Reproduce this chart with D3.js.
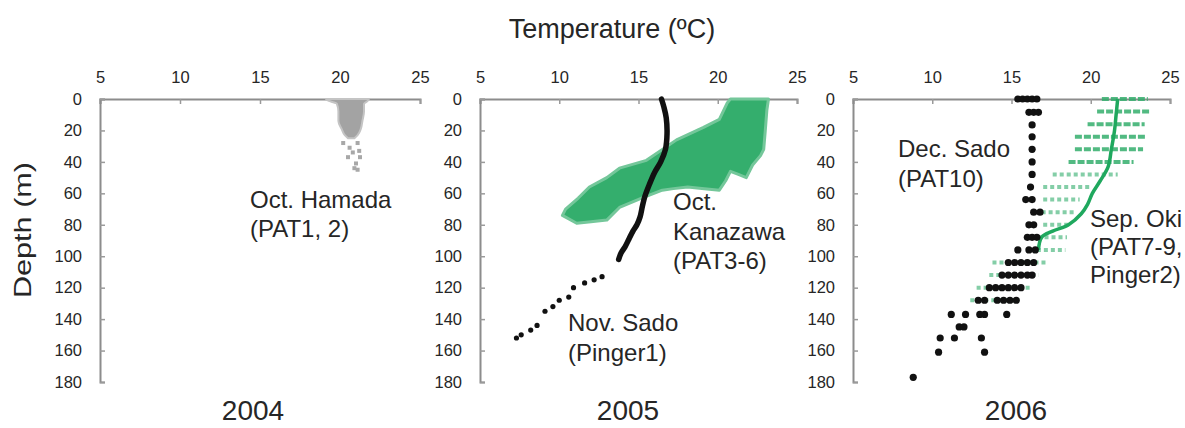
<!DOCTYPE html>
<html><head><meta charset="utf-8">
<script src="https://cdn.jsdelivr.net/npm/d3@7"></script>
<style>
body{margin:0;background:#fff}
svg{display:block}
text{font-family:"Liberation Sans",Arial,Helvetica,sans-serif;fill:#262626}
</style>
</head><body>
<svg id="chart" width="1185" height="428"></svg>
<script>
// ---------- data ----------
const xTicks = [5, 10, 15, 20, 25];
const yTicks = [0, 20, 40, 60, 80, 100, 120, 140, 160, 180];
const years = ["2004", "2005", "2006"];
const xTitle = "Temperature (\u00baC)";
const yTitle = "Depth (m)";

// 2004 Oct. Hamada (PAT1, 2): envelope of the dense grey cloud + sparse points
const hamadaDepth = [0, 1.5, 3, 8, 14, 19, 23, 25];
const hamadaLo    = [19.1, 19.4, 19.8, 19.9, 19.9, 20.1, 20.3, 20.5];
const hamadaHi    = [21.8, 21.7, 21.5, 21.5, 21.4, 21.3, 21.1, 20.9];
const hamadaSparseT = [20.2, 21.1, 20.6, 20.8, 21.2, 20.5, 21.25, 21.0, 21.1, 20.9];
const hamadaSparseD = [28, 28, 31, 34, 33, 37, 37, 41, 45, 44];

// 2005 Oct. Kanazawa (PAT3-6): outline of the dense green cloud
const kanazawaT = [20.8, 23.2, 23.1, 23.0, 22.9, 22.7, 22.2, 21.8, 21.3, 20.8, 20.5, 20.1, 19.0, 18.1, 17.2, 16.5, 15.2, 13.8, 13.0, 12.0, 11.1, 10.2, 10.4, 11.2, 11.9, 13.0, 13.8, 15.5, 17.4, 19.1, 20.1, 20.6];
const kanazawaD = [0, 0, 7, 20, 32, 36, 42, 50, 48, 46, 52, 58, 57, 56, 57, 58, 63, 69, 77, 78, 79, 74, 70, 63, 56, 50, 44, 39, 26, 18, 13, 2.5];

// 2005 Nov. Sado (Pinger1): continuous profile + deeper discrete points
const pinger1T = [16.45, 16.6, 16.75, 16.8, 16.7, 16.4, 16.0, 15.7, 15.4, 15.25, 15.1, 14.9, 14.65, 14.4, 14.15, 13.9, 13.75];
const pinger1D = [0, 5, 12, 22, 32, 40, 47, 54, 62, 68, 75, 80, 84, 89, 94, 98, 102];
const pinger1DotsT = [12.7, 12.2, 11.6, 10.9, 10.6, 10.0, 9.6, 9.1, 8.6, 8.2, 7.6, 7.3];
const pinger1DotsD = [113, 115, 117, 120, 126, 128, 132, 135, 144, 147, 150, 152];

// 2006 Sep. Oki (PAT7-9, Pinger2): rows of points per depth (range) + mean profile
const okiDepth = [0, 8, 16, 24, 32, 40, 48, 56, 64, 72, 80, 88, 96, 104, 112, 120, 128];
const okiLo    = [20.7, 20.4, 19.8, 19.0, 19.0, 18.6, 17.6, 17.0, 17.0, 16.9, 17.0, 16.2, 16.6, 13.8, 13.6, 12.8, 12.4];
const okiHi    = [23.6, 23.7, 23.4, 23.5, 23.3, 22.7, 21.7, 20.0, 19.3, 19.1, 18.7, 18.5, 18.4, 17.2, 16.7, 16.2, 15.5];
const okiLineT = [21.7, 21.6, 21.5, 21.3, 21.1, 20.6, 20.1, 19.8, 19.4, 18.6, 17.6, 16.9, 16.7];
const okiLineD = [0, 10, 20, 32, 43, 52, 60, 67, 73, 80, 84, 88, 96];

// 2006 Dec. Sado (PAT10): discrete points
const sadoT = [15.4, 15.7, 16.0, 16.3, 16.6,  16.1, 16.4, 16.7,  16.3, 16.3, 16.3, 16.3, 16.3, 16.2,  15.9, 16.3,  16.4, 16.8,  16.1, 16.4,  16.0, 16.3, 16.6,  15.4, 16.1, 16.5,
  14.8, 15.2, 15.6, 16.0, 16.4,  14.4, 14.8, 15.2, 15.6, 16.0, 16.3,  13.6, 14.0, 14.4, 14.8, 15.2, 15.6,  12.9, 13.3, 14.1, 14.5, 14.9, 15.3,
  11.2, 12.1, 13.0, 13.3, 14.7,  11.7, 12.0,  10.5, 11.4, 13.1,  10.4, 13.3,  8.8];
const sadoD = [0, 0, 0, 0, 0,  8.5, 8.5, 8.5,  16.5, 24, 32, 40, 48, 56,  64, 64,  72, 72,  80, 80,  88, 88, 88,  96, 96, 96,
  104, 104, 104, 104, 104,  112, 112, 112, 112, 112, 112,  120, 120, 120, 120, 120, 120,  128, 128, 128, 128, 128, 128,
  137, 137, 137, 137, 137,  145, 145,  152, 152, 152,  161, 161,  177];

// ---------- drawing ----------
const svg = d3.select("#chart");
const green = "#34ae6d";
const y = d3.scaleLinear().domain([0, 180]).range([99, 382]);
const panels = [[100, 420], [480, 797], [853, 1170]].map(r => d3.scaleLinear().domain([5, 25]).range(r));

panels.forEach((x, i) => {
  const g = svg.append("g");
  const ax = g.append("g").attr("transform", `translate(0,${y(0)})`)
    .call(d3.axisTop(x).tickValues(xTicks).tickSize(-5).tickPadding(16).tickFormat(d3.format("d")));
  const ay = g.append("g").attr("transform", `translate(${x(5)},0)`)
    .call(d3.axisLeft(y).tickValues(yTicks).tickSize(-5).tickPadding(18).tickFormat(d3.format("d")));
  [ax, ay].forEach(a => {
    a.select(".domain").attr("stroke", "#8c8c8c").attr("stroke-width", 2);
    a.selectAll(".tick line").attr("stroke", "#9a9a9a").attr("stroke-width", 1.5);
    a.selectAll("text").attr("font-size", 16.5).attr("fill", "#333")
      .attr("font-family", "'Liberation Sans',Arial,sans-serif");
  });
  ax.selectAll(".tick text").attr("dy", "0em");
});

// Panel 1: Hamada grey cloud
{
  const x = panels[0];
  const rows = hamadaDepth.map((d, i) => ({d, lo: hamadaLo[i], hi: hamadaHi[i]}));
  svg.append("path").datum(rows)
    .attr("d", d3.area().y(r => y(r.d)).x0(r => x(r.lo)).x1(r => x(r.hi)).curve(d3.curveMonotoneY))
    .attr("fill", "#a3a3a3").attr("stroke", "#c4c4c4").attr("stroke-width", 2);
  svg.append("g").selectAll("rect").data(hamadaSparseT.map((t, i) => ({t, d: hamadaSparseD[i]})))
    .join("rect").attr("x", p => x(p.t) - 2).attr("y", p => y(p.d) - 2).attr("width", 4).attr("height", 4)
    .attr("fill", "#a8a8a8");
}

// Panel 2: Kanazawa green cloud + Pinger1 profile
{
  const x = panels[1];
  const pts = kanazawaT.map((t, i) => ({t, d: kanazawaD[i]}));
  const outline = d3.line().x(p => x(p.t)).y(p => y(p.d)).curve(d3.curveLinearClosed);
  svg.append("path").datum(pts).attr("d", outline)
    .attr("fill", green).attr("stroke", "#74c79a").attr("stroke-width", 3).attr("stroke-linejoin", "round");
  const prof = pinger1T.map((t, i) => ({t, d: pinger1D[i]}));
  svg.append("path").datum(prof)
    .attr("d", d3.line().x(p => x(p.t)).y(p => y(p.d)).curve(d3.curveCatmullRom))
    .attr("fill", "none").attr("stroke", "#111").attr("stroke-width", 5.5).attr("stroke-linecap", "round");
  svg.append("g").selectAll("circle").data(pinger1DotsT.map((t, i) => ({t, d: pinger1DotsD[i]})))
    .join("circle").attr("cx", p => x(p.t)).attr("cy", p => y(p.d)).attr("r", 2.6).attr("fill", "#111");
}

// Panel 3: Oki rows + line, Sado dots
{
  const x = panels[2];
  svg.append("g").selectAll("line").data(okiDepth.map((d, i) => ({d, lo: okiLo[i], hi: okiHi[i]})))
    .join("line")
    .attr("x1", r => x(r.lo)).attr("x2", r => x(r.hi))
    .attr("y1", r => y(r.d)).attr("y2", r => y(r.d))
    .attr("stroke", green).attr("stroke-width", 4)
    .attr("stroke-dasharray", r => r.d < 44 ? "7 2" : "4 3")
    .attr("opacity", r => r.d < 44 ? 0.85 : 0.6);
  svg.append("path").datum(okiLineT.map((t, i) => ({t, d: okiLineD[i]})))
    .attr("d", d3.line().x(p => x(p.t)).y(p => y(p.d)).curve(d3.curveCatmullRom))
    .attr("fill", "none").attr("stroke", "#1fa85e").attr("stroke-width", 3.5);
  svg.append("g").selectAll("circle").data(sadoT.map((t, i) => ({t, d: sadoD[i]})))
    .join("circle").attr("cx", p => x(p.t)).attr("cy", p => y(p.d)).attr("r", 3.6).attr("fill", "#111");
}

// ---------- text ----------
svg.append("text").attr("x", 612).attr("y", 38).attr("text-anchor", "middle")
  .attr("font-size", 27).text(xTitle);
svg.append("text").attr("transform", "translate(31,230) rotate(-90)").attr("text-anchor", "middle")
  .attr("font-size", 24).attr("textLength", 136).attr("lengthAdjust", "spacingAndGlyphs").text(yTitle);

const yearX = [253, 628, 1016];
years.forEach((t, i) => svg.append("text").attr("x", yearX[i]).attr("y", 420)
  .attr("text-anchor", "middle").attr("font-size", 28).text(t));

function label(x0, y0, lines, step) {
  const t = svg.append("text").attr("font-size", 24);
  lines.forEach((s, i) => t.append("tspan").attr("x", x0).attr("y", y0 + i * step).text(s));
}
label(250, 208, ["Oct. Hamada", "(PAT1, 2)"], 29);
label(673, 210, ["Oct.", "Kanazawa", "(PAT3-6)"], 29.5);
label(568, 331, ["Nov. Sado", "(Pinger1)"], 29.5);
label(898, 157, ["Dec. Sado", "(PAT10)"], 30);
label(1090, 227, ["Sep. Oki", "(PAT7-9,", "Pinger2)"], 28);
</script>
</body></html>
